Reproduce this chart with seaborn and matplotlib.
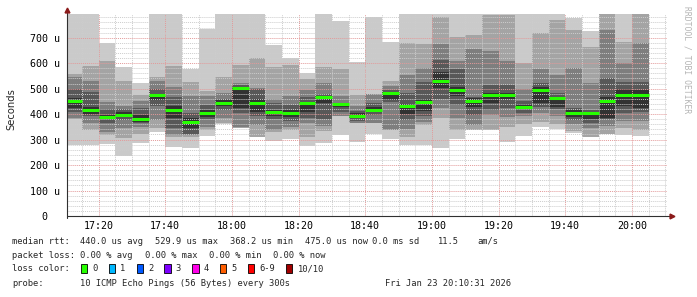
import matplotlib
matplotlib.use("Agg")
import matplotlib.pyplot as plt
import matplotlib.dates as mdates
import numpy as np
import pandas as pd
import seaborn as sns

# ---- data (microseconds); ten sorted pings per 5-minute step ----
start_times = pd.date_range("2026-01-23 17:10", periods=35, freq="5min")
ping1 = [279,279,283,237,285,328,272,268,314,361,347,309,296,302,276,288,319,292,322,301,279,279,268,301,338,338,292,314,351,342,325,312,321,318,315]
ping2 = [380,338,318,308,322,345,310,310,338,366,347,309,331,338,312,335,394,364,366,338,311,357,383,338,338,338,351,361,370,361,335,312,321,345,338]
ping3 = [384,366,331,347,351,378,318,318,351,383,351,357,338,351,366,355,394,364,366,338,340,370,423,386,357,397,387,393,403,393,361,344,353,373,374]
ping4 = [410,393,366,377,366,430,344,322,381,416,403,393,380,374,383,380,410,374,397,449,377,393,458,436,397,416,423,403,427,420,377,366,381,405,410]
ping5 = [423,400,380,387,370,455,383,347,390,432,423,410,393,390,407,442,429,383,407,455,400,412,504,471,429,442,458,423,442,429,390,380,383,430,423]
median = [453,416,389,398,382,474,415,368,403,442,501,442,408,406,445,466,440,393,416,482,432,449,530,495,453,476,474,429,495,462,406,406,453,475,475]
ping6 = [462,429,397,407,397,478,432,383,416,455,508,461,416,416,449,470,442,403,427,488,440,458,567,505,462,484,482,440,505,466,416,410,469,500,495]
ping7 = [497,487,420,420,425,497,469,403,436,461,513,497,442,435,469,478,445,412,445,495,482,526,613,577,469,514,514,452,524,482,423,416,541,527,526]
ping8 = [545,530,448,432,452,530,505,471,471,482,521,501,458,471,495,523,471,432,479,510,554,581,675,609,654,648,609,499,577,554,580,524,730,600,681]
ping9 = [558,590,609,530,475,545,590,526,492,547,592,619,586,593,539,586,577,475,479,530,678,675,783,704,711,790,790,599,720,770,730,665,800,684,800]
ping10 = [800,800,681,585,522,800,800,578,736,800,800,800,670,619,560,800,766,605,783,683,800,800,800,800,800,800,800,800,800,800,777,726,800,800,800]

ytick_values = [0, 100, 200, 300, 400, 500, 600, 700]
ytick_labels = ["0  ", "100 u", "200 u", "300 u", "400 u", "500 u", "600 u", "700 u"]

loss_labels = ["0", "1", "2", "3", "4", "5", "6-9", "10/10"]
loss_colors = ["#26ff00", "#00b8ff", "#0059ff", "#7e00ff", "#ff00ea", "#ff5e00", "#ff0000", "#a10000"]

# ---- style ----
sns.set_theme(style="white")
plt.rcParams["font.family"] = ["DejaVu Sans Mono", "DejaVu Sans"]

W, H = 697, 297
fig = plt.figure(figsize=(W / 100, H / 100), dpi=100)
fig.patch.set_facecolor("white")
ax_left, ax_right, ax_top, ax_bot = 67, 667, 14, 216
ax = fig.add_axes([ax_left / W, (H - ax_bot) / H, (ax_right - ax_left) / W, (ax_bot - ax_top) / H])
ax.set_facecolor("white")

x = mdates.date2num(start_times.to_pydatetime())
w = 5 / 1440.0

bands = [
    (ping1, ping10, "#cacaca"),
    (ping2, ping9, "#a4a4a4"),
    (ping3, ping8, "#7e7e7e"),
    (ping4, ping7, "#585858"),
    (ping5, ping6, "#323232"),
]
for lo, hi, col in bands:
    lo = np.asarray(lo, float)
    hi = np.asarray(hi, float)
    ax.bar(x, hi - lo, bottom=lo, width=w, align="edge", color=col, linewidth=0, zorder=1)

ax.hlines(median, x, x + w, colors=loss_colors[0], linewidth=2.2, zorder=3)

t0 = mdates.date2num(pd.Timestamp("2026-01-23 17:10:31"))
t1 = mdates.date2num(pd.Timestamp("2026-01-23 20:10:31"))
ax.set_xlim(t0, t1)
ax.set_ylim(0, 793)

ax.xaxis.set_major_locator(mdates.MinuteLocator(byminute=[0, 20, 40]))
ax.xaxis.set_minor_locator(mdates.MinuteLocator(byminute=list(range(0, 60, 5))))
ax.xaxis.set_major_formatter(mdates.DateFormatter("%H:%M"))
ax.set_yticks(ytick_values)
ax.set_yticklabels(ytick_labels)
ax.set_yticks(list(range(0, 793, 20)), minor=True)

ax.grid(which="minor", color="#cdcdcd", linestyle=(0, (1, 1)), linewidth=0.7)
ax.grid(which="major", color="#e39a9a", linestyle=(0, (1, 1)), linewidth=0.7)
ax.set_axisbelow(False)

for s in ax.spines.values():
    s.set_visible(False)

ax.tick_params(axis="both", which="major", direction="out", length=1.5, width=0.6,
               color="#404040", labelsize=7.2, labelcolor="#000000")
ax.tick_params(axis="both", which="minor", direction="out", length=1.2, width=0.6, color="#404040")
ax.tick_params(axis="y", which="major", pad=3.6)
ax.tick_params(axis="x", which="major", pad=1.8)
for lab in ax.get_yticklabels() + ax.get_xticklabels():
    lab.set_fontfamily("DejaVu Sans Mono")

# axis lines with arrows
ax.plot([0, 0], [-0.01, 1.02], transform=ax.transAxes, clip_on=False, color="#303030", lw=0.8, zorder=5)
ax.plot([0, 1.006], [0, 0], transform=ax.transAxes, clip_on=False, color="#303030", lw=0.8, zorder=5)
ax.plot([0], [1.022], marker="^", markersize=3.5, color="#8b1a1a", transform=ax.transAxes, clip_on=False, zorder=6)
ax.plot([1.008], [0], marker=">", markersize=3.5, color="#8b1a1a", transform=ax.transAxes, clip_on=False, zorder=6)

def ftxt(px, py, s, **kw):
    kw.setdefault("fontsize", 6.3)
    kw.setdefault("va", "center")
    kw.setdefault("ha", "left")
    kw.setdefault("family", "DejaVu Sans Mono")
    return fig.text(px / W, 1 - py / H, s, **kw)

ftxt(11, 109, "Seconds", rotation=90, ha="center", fontsize=7.2, family="DejaVu Sans")
ftxt(687, 60, "RRDTOOL / TOBI OETIKER", rotation=-90, ha="center", fontsize=5.8, color="#b4b4b4")

y1, y2, y3, y4 = 241, 255.5, 268.5, 283
ftxt(12, y1, "median rtt:")
for px, s in [(80, "440.0 us avg"), (155, "529.9 us max"), (230, "368.2 us min"),
              (305, "475.0 us now"), (372, "0.0 ms sd"), (438, "11.5"), (477, "am/s")]:
    ftxt(px, y1, s)
ftxt(12, y2, "packet loss:")
for px, s in [(80, "0.00 % avg"), (145, "0.00 % max"), (209, "0.00 % min"), (273, "0.00 % now")]:
    ftxt(px, y2, s)
ftxt(12, y3, "loss color:")
box_x = [81, 108.7, 136.7, 164.3, 192.3, 220, 247.7, 286]
for bx, lab, col in zip(box_x, loss_labels, loss_colors):
    fig.patches.append(matplotlib.patches.Rectangle(
        (bx / W, 1 - 272.7 / H), 6.3 / W, 8.3 / H, transform=fig.transFigure,
        facecolor=col, edgecolor="#000000", linewidth=0.6))
    ftxt(bx + 11.5, y3, lab)
ftxt(12, y4, "probe:")
ftxt(80, y4, "10 ICMP Echo Pings (56 Bytes) every 300s")
ftxt(385, y4, "Fri Jan 23 20:10:31 2026")

fig.savefig("out.png", dpi=100, facecolor="white")
